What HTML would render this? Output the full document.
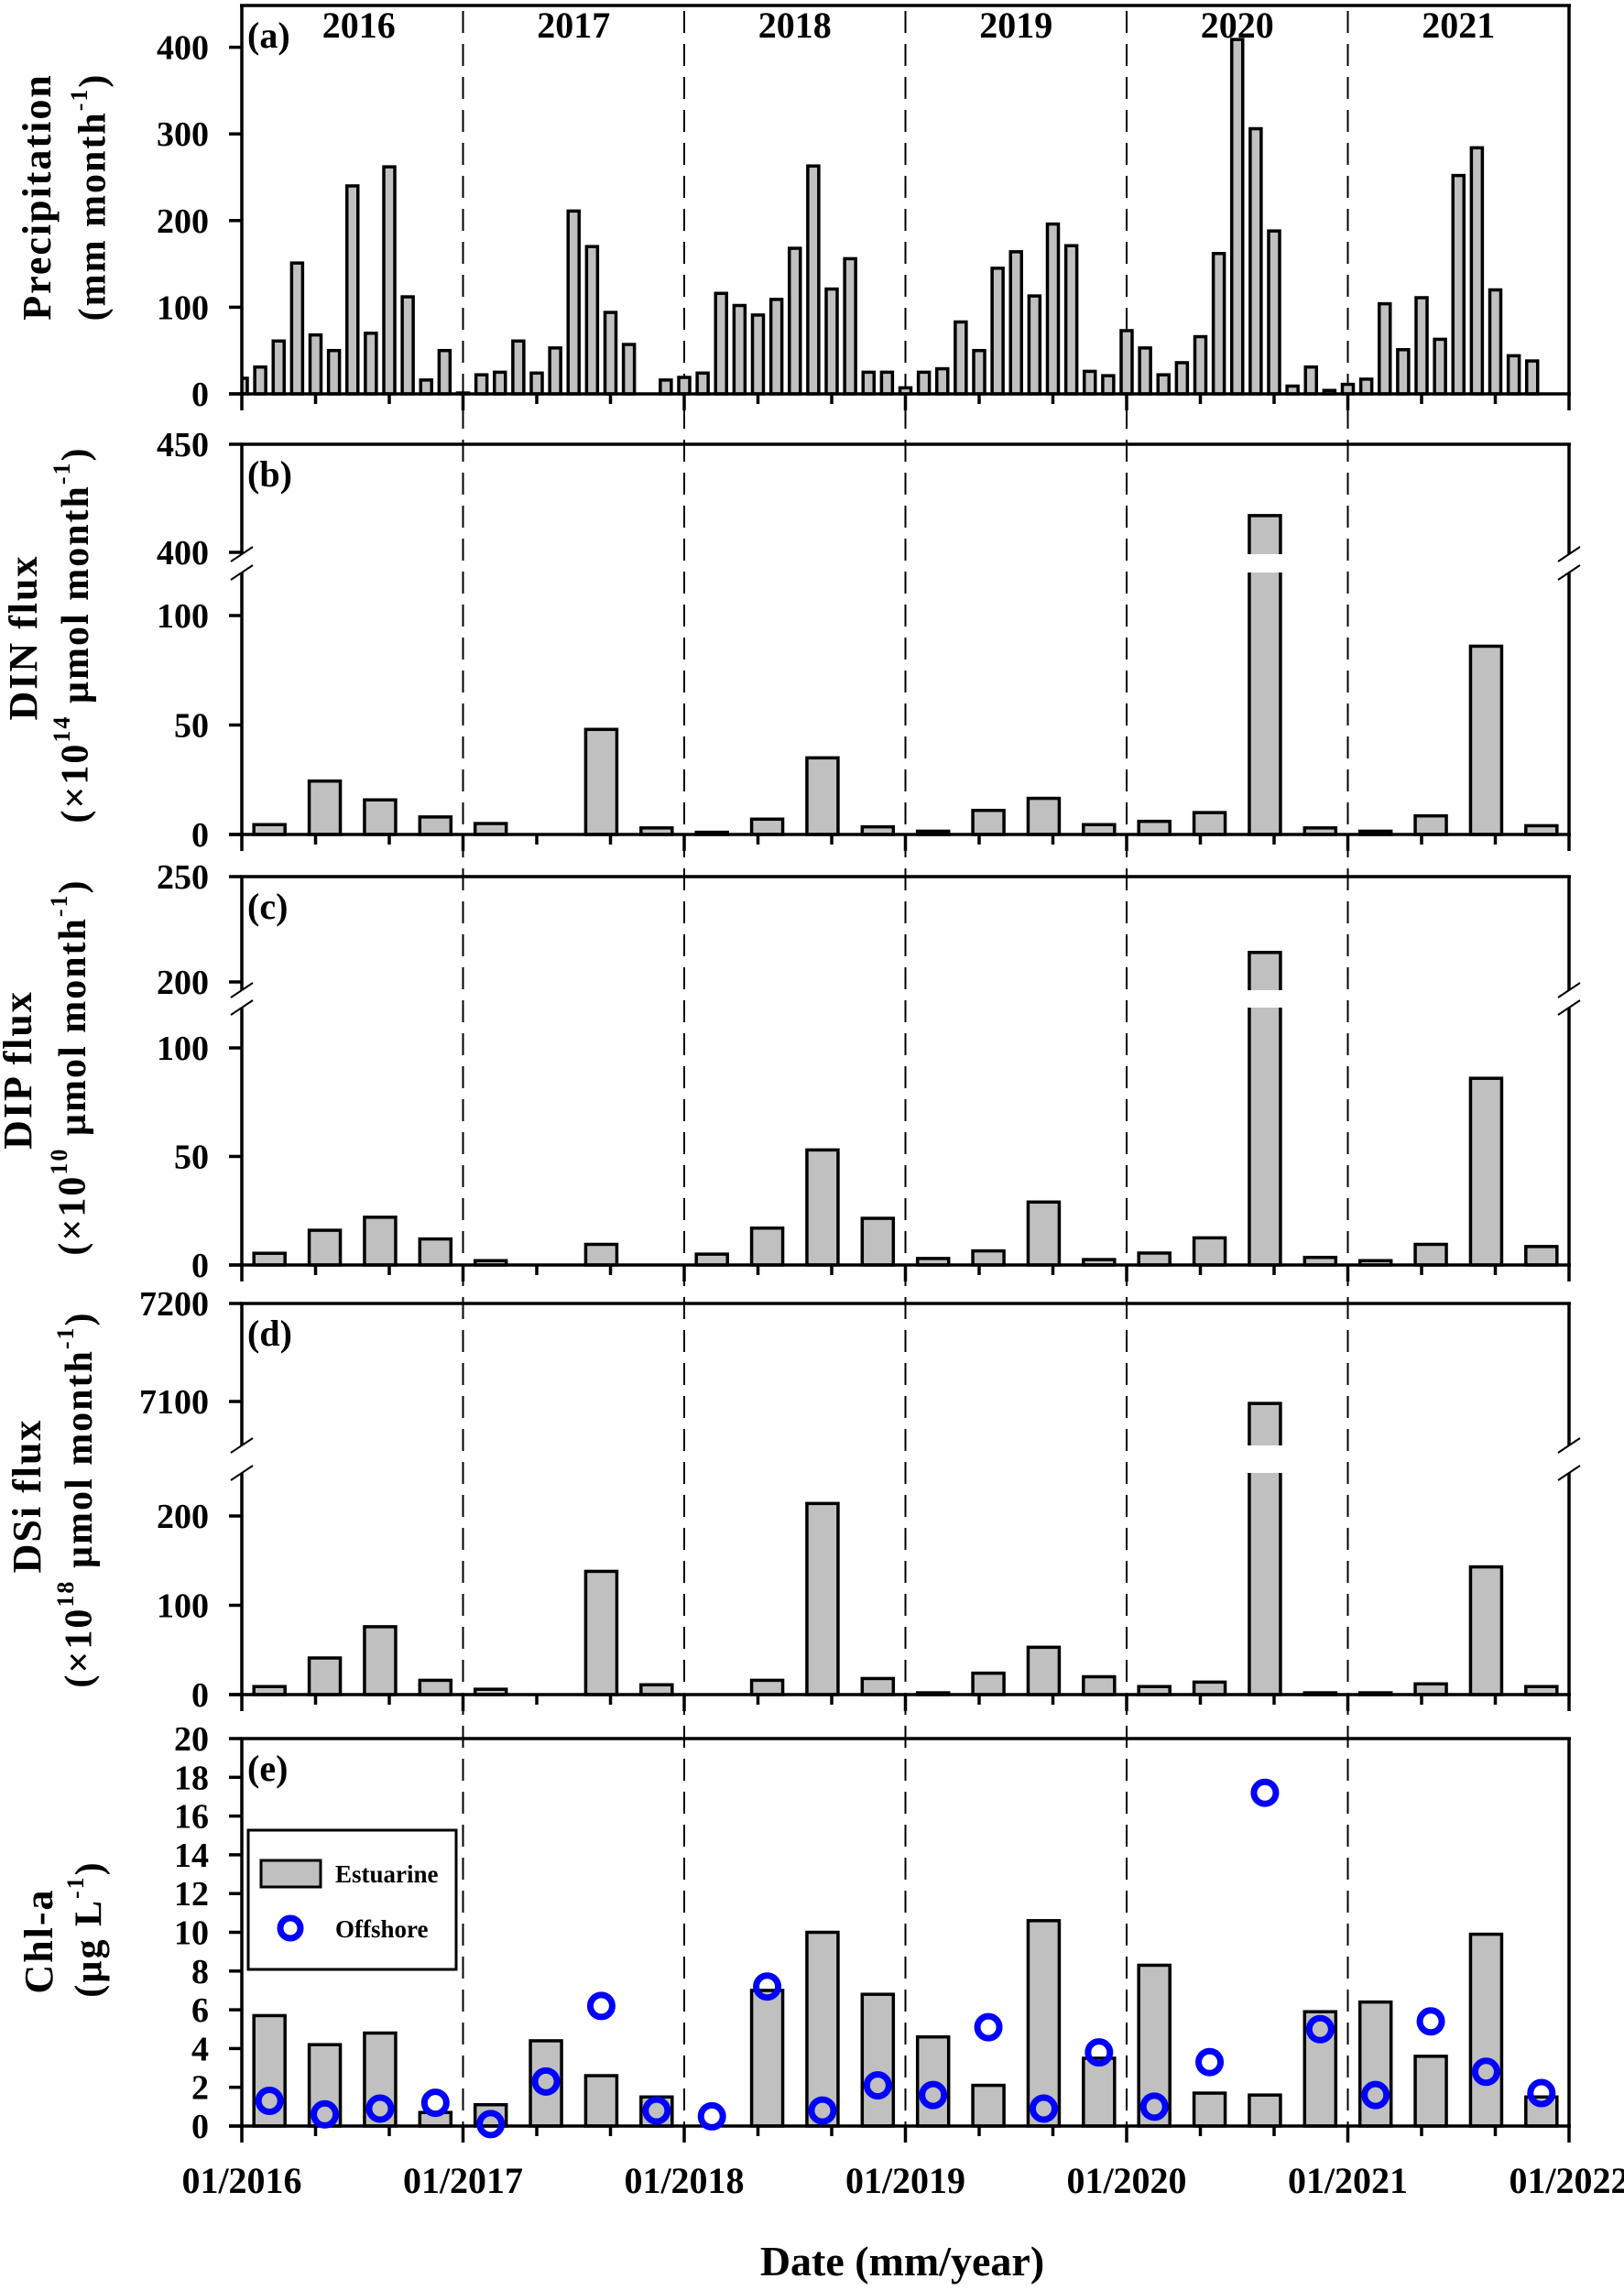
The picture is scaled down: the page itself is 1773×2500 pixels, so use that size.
<!DOCTYPE html>
<html><head><meta charset="utf-8"><style>
html,body{margin:0;padding:0;background:#fff;}
svg{display:block;font-family:"Liberation Serif","Times New Roman",serif;font-weight:bold;}
</style></head><body>
<svg id="chart" xmlns="http://www.w3.org/2000/svg" width="1773" height="2500" viewBox="0 0 1773 2500">
<defs><clipPath id="clipA"><rect x="264" y="0" width="1449" height="440"/></clipPath></defs>
<rect x="0" y="0" width="1773" height="2500" fill="#fff"/>
<g id="dashes"></g>
<g id="plots"></g>
<g id="labels">
<text x="45" y="215" transform="rotate(-90 45 215)" text-anchor="middle" dominant-baseline="middle" font-size="44" letter-spacing="2">Precipitation</text>
<text x="105" y="215" transform="rotate(-90 105 215)" text-anchor="middle" dominant-baseline="middle" font-size="42" letter-spacing="2">(mm month<tspan font-size="26" dy="-16">-1</tspan><tspan dy="16">)</tspan></text>
<text x="30" y="696" transform="rotate(-90 30 696)" text-anchor="middle" dominant-baseline="middle" font-size="44" letter-spacing="2">DIN flux</text>
<text x="86" y="693" transform="rotate(-90 86 693)" text-anchor="middle" dominant-baseline="middle" font-size="42" letter-spacing="2">(×10<tspan font-size="26" dy="-16">14</tspan><tspan dy="16"> µmol month</tspan><tspan font-size="26" dy="-16">-1</tspan><tspan dy="16">)</tspan></text>
<text x="24" y="1168" transform="rotate(-90 24 1168)" text-anchor="middle" dominant-baseline="middle" font-size="44" letter-spacing="2">DIP flux</text>
<text x="83" y="1165" transform="rotate(-90 83 1165)" text-anchor="middle" dominant-baseline="middle" font-size="42" letter-spacing="2">(×10<tspan font-size="26" dy="-16">10</tspan><tspan dy="16"> µmol month</tspan><tspan font-size="26" dy="-16">-1</tspan><tspan dy="16">)</tspan></text>
<text x="34" y="1633" transform="rotate(-90 34 1633)" text-anchor="middle" dominant-baseline="middle" font-size="44" letter-spacing="2">DSi flux</text>
<text x="90" y="1637" transform="rotate(-90 90 1637)" text-anchor="middle" dominant-baseline="middle" font-size="42" letter-spacing="2">(×10<tspan font-size="26" dy="-16">18</tspan><tspan dy="16"> µmol month</tspan><tspan font-size="26" dy="-16">-1</tspan><tspan dy="16">)</tspan></text>
<text x="47" y="2119" transform="rotate(-90 47 2119)" text-anchor="middle" dominant-baseline="middle" font-size="44" letter-spacing="2">Chl-a</text>
<text x="101" y="2106" transform="rotate(-90 101 2106)" text-anchor="middle" dominant-baseline="middle" font-size="42" letter-spacing="2">(µg L<tspan font-size="26" dy="-16">-1</tspan><tspan dy="16">)</tspan></text>
<text x="985" y="2484" text-anchor="middle" font-size="46">Date (mm/year)</text>
</g>
</svg>
<script>
const years = ['2016','2017','2018','2019','2020','2021'];
const xTickLabels = ['01/2016','01/2017','01/2018','01/2019','01/2020','01/2021','01/2022'];
const precip = [18,31,61,151,68,50,240,70,262,112,16,50,
 1,22,25,61,24,53,211,170,94,57,0,16,
 19,24,116,102,91,109,168,263,121,156,25,25,
 7,25,29,83,50,145,164,113,196,171,26,21,
 73,53,22,36,66,162,409,306,188,9,31,4,
 11,17,104,51,111,63,252,284,120,44,38,0];
const din = [4.5,24.4,15.8,8, 5,0,48,3, 1,7,35,3.5, 1.5,11,16.5,4.5, 6,10,417,3, 1.5,8.5,86,4];
const dip = [5.4,16,22,12, 2,0,9.5,0, 5,17,53,21.5, 3,6.5,29,2.5, 5.5,12.5,214,3.5, 2,9.5,86,8.5];
const dsi = [9,41,76,16, 6,0,138,11, 0,16,214,18, 2,24,53,20, 9,14,7098,2, 2,12,143,9];
const chlEst = [5.7,4.2,4.8,0.7, 1.1,4.4,2.6,1.5, 0,7.0,10.0,6.8, 4.6,2.1,10.6,3.5, 8.3,1.7,1.6,5.9, 6.4,3.6,9.9,1.5];
const chlOff = [1.3,0.6,0.9,1.2, 0.1,2.3,6.2,0.8, 0.5,7.2,0.8,2.1, 1.6,5.1,0.9,3.8, 1.0,3.3,17.2,5.0, 1.6,5.4,2.8,1.7];
const ticksA = [0,100,200,300,400];
const ticksB = [0,50,100,400,450];
const ticksC = [0,50,100,200,250];
const ticksD = [0,100,200,7100,7200];
const ticksE = [0,2,4,6,8,10,12,14,16,18,20];

const NS='http://www.w3.org/2000/svg';
const L=264, R=1713, YW=(R-L)/6;
function el(tag, attrs, parent){const e=document.createElementNS(NS,tag);for(const k in attrs)e.setAttribute(k,attrs[k]);parent.appendChild(e);return e;}
const plots=document.getElementById('plots');
const dashes=document.getElementById('dashes');
function xm(i){return L+i*YW/12;}
function xq(i){return L+(i+0.5)*YW/4;}
function xt(i){return L+i*YW/3;}

// scales
function linScale(base,k){return v=>base-v*k;}
function brokenScale(base,k,y1,y2,upVal,upY,upK){
  const lowMax=(base-y2)/k;
  const f=v=> v<=lowMax ? base-v*k : upY-(v-upVal)*upK;
  f.y1=y1; f.y2=y2; f.lowMax=lowMax; return f;
}
const panels=[
 {id:'a',top:6,base:430,scale:linScale(430,0.946),ticks:ticksA},
 {id:'b',top:485,base:911,scale:brokenScale(911,2.39,605,625,400,603,2.36),ticks:ticksB},
 {id:'c',top:957,base:1381,scale:brokenScale(1381,2.37,1081,1100,200,1072,2.3),ticks:ticksC},
 {id:'d',top:1423,base:1850,scale:brokenScale(1850,0.975,1578,1608,7100,1530,1.07),ticks:ticksD},
 {id:'e',top:1898,base:2321,scale:linScale(2321,21.15),ticks:ticksE}
];

// year dashed lines
for(let y=1;y<6;y++){
  const ln=el('line',{x1:L+y*YW,x2:L+y*YW,y1:12,y2:2338,stroke:'#000','stroke-width':2,'stroke-dasharray':'24 12'},dashes);
  
  
}

function drawBar(g,cx,w,v,sc,base,name){
  const y=sc(v);
  const r=el('rect',{x:cx-w/2,y:Math.min(y,base),width:w,height:Math.abs(base-y),fill:'#c0c0c0',stroke:'#000','stroke-width':3.5},g);
  
  
  if(sc.y1!==undefined && v>sc.lowMax){
    const gap=el('rect',{x:cx-w/2-4,y:sc.y1,width:w+8,height:sc.y2-sc.y1,fill:'#fff'},g);
    
    
  }
}

panels.forEach((p,pi)=>{
  const g=el('g',{},plots);
  
  
  const sc=p.scale;
  // bars
  const bars=el('g',{},g);
  
  
  if(p.id==='a'){
    bars.setAttribute('clip-path','url(#clipA)');
    precip.forEach((v,i)=>{ if(v>0) drawBar(bars,xm(i),12,v,sc,p.base,'precip-bar-'+i); });
  } else {
    const arr = p.id==='b'?din:p.id==='c'?dip:p.id==='d'?dsi:chlEst;
    arr.forEach((v,i)=>{ if(v>0) drawBar(bars,xq(i),34,v,sc,p.base,p.id+'-bar-'+i); });
  }
  // frame
  const sw=3.5;
  const fr=el('g',{stroke:'#000','stroke-width':sw,fill:'none'},g);
  
  
  el('line',{x1:L-2,x2:R+2,y1:p.top,y2:p.top},fr);
  el('line',{x1:L-14,x2:R+2,y1:p.base,y2:p.base},fr);
  [L,R].forEach(xx=>{
    if(sc.y1!==undefined){
      el('line',{x1:xx,x2:xx,y1:p.top,y2:sc.y1},fr);
      el('line',{x1:xx,x2:xx,y1:sc.y2,y2:p.base},fr);
      el('line',{x1:xx-12,x2:xx+12,y1:sc.y1+8,y2:sc.y1-8,'stroke-width':2},fr);
      el('line',{x1:xx-12,x2:xx+12,y1:sc.y2+8,y2:sc.y2-8,'stroke-width':2},fr);
    } else {
      el('line',{x1:xx,x2:xx,y1:p.top,y2:p.base},fr);
    }
  });
  // x ticks
  for(let t=0;t<=18;t++){
    const long=t%3===0;
    el('line',{x1:xt(t),x2:xt(t),y1:p.base,y2:p.base+(long?18:11)},fr);
  }
  // y ticks
  p.ticks.forEach(v=>{
    const y=sc(v);
    el('line',{x1:L-14,x2:L,y1:y,y2:y},fr);
    const tx=el('text',{x:228,y:y+13,'text-anchor':'end','font-size':38},g);
    tx.textContent=String(v);
    
    
  });
  // panel letter
  const lt=el('text',{x:270,y:p.top+46,'font-size':40},g);
  lt.textContent='('+p.id+')';
  
  
});

// year labels panel a
years.forEach((y,i)=>{
  const t=el('text',{x:L+(i+0.5)*YW+(i===0?7:0),y:41,'text-anchor':'middle','font-size':40},plots);
  t.textContent=y;
  
  
});

// offshore circles
const eP=panels[4];
const circ=el('g',{},plots);


chlOff.forEach((v,i)=>{
  const c=el('circle',{cx:xq(i),cy:eP.scale(v),r:12,fill:'none',stroke:'#0000ff','stroke-width':7},circ);
  
  
});

// x tick labels
xTickLabels.forEach((s,i)=>{
  const t=el('text',{x:L+i*YW,y:2394,'text-anchor':'middle','font-size':40},plots);
  t.textContent=s;
  
  
});

// legend
const lg=el('g',{},plots);


el('rect',{x:271,y:1998,width:227,height:152,fill:'#fff',stroke:'#000','stroke-width':3},lg);
const sw1=el('rect',{x:285,y:2031,width:65,height:29,fill:'#c0c0c0',stroke:'#000','stroke-width':3},lg);


const t1=el('text',{x:366,y:2055,'font-size':27},lg);
t1.textContent='Estuarine';


const sw2=el('circle',{cx:317,cy:2105,r:11,fill:'none',stroke:'#0000ff','stroke-width':7},lg);


const t2=el('text',{x:366,y:2115,'font-size':27},lg);
t2.textContent='Offshore';


</script>
</body></html>
